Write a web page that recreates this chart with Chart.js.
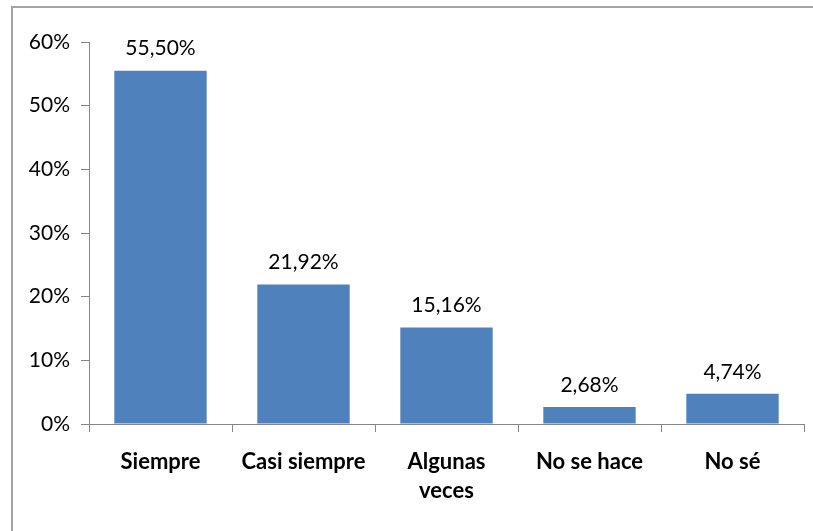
<!DOCTYPE html>
<html>
<head>
<meta charset="utf-8">
<script src="https://cdn.jsdelivr.net/npm/chart.js@4/dist/chart.umd.min.js"></script>
<style>
  html, body { margin: 0; padding: 0; background: #fff; }
  #wrap { width: 813px; height: 531px; position: relative; }
</style>
</head>
<body>
<div id="wrap"><canvas id="barChart"></canvas></div>
<script>
const categories = ['Siempre', 'Casi siempre', ['Algunas', 'veces'], 'No se hace', 'No sé'];
const values = [55.50, 21.92, 15.16, 2.68, 4.74];
const yTicks = [0, 10, 20, 30, 40, 50, 60];

const FONT = 'Lato, "Open Sans", sans-serif';
const axisColor = '#868686';

const fmt = v => v.toFixed(2).replace('.', ',') + '%';

// frame line on the top and left, like the original export
const framePlugin = {
  id: 'frame',
  beforeDraw(chart) {
    const ctx = chart.ctx;
    ctx.save();
    ctx.strokeStyle = '#a3a3a3';
    ctx.lineWidth = 2;
    ctx.beginPath();
    ctx.moveTo(12, 531);
    ctx.lineTo(12, 7);
    ctx.lineTo(813, 7);
    ctx.stroke();
    ctx.restore();
  }
};

// value labels above bars
const valueLabels = {
  id: 'valueLabels',
  afterDatasetsDraw(chart) {
    const ctx = chart.ctx;
    const meta = chart.getDatasetMeta(0);
    ctx.save();
    ctx.font = '21px ' + FONT;
    ctx.fillStyle = '#000';
    ctx.textAlign = 'center';
    ctx.textBaseline = 'middle';
    meta.data.forEach((bar, i) => {
      ctx.fillText(fmt(values[i]), bar.x, bar.y - 22);
    });
    ctx.restore();
  }
};

new Chart(document.getElementById('barChart').getContext('2d'), {
  type: 'bar',
  data: {
    labels: categories,
    datasets: [{
      data: values,
      backgroundColor: '#4F81BD',
      borderWidth: 0,
      categoryPercentage: 1,
      barPercentage: 0.646
    }]
  },
  options: {
    responsive: true,
    maintainAspectRatio: false,
    animation: false,
    layout: { padding: { top: 42, right: 9, left: 0, bottom: 0 } },
    plugins: {
      legend: { display: false },
      tooltip: { enabled: false }
    },
    scales: {
      x: {
        grid: { drawOnChartArea: false, drawTicks: true, tickLength: 8, color: axisColor, offset: true },
        border: { display: true, color: axisColor },
        ticks: {
          color: '#000',
          padding: 15,
          maxRotation: 0,
          autoSkip: false,
          font: { family: FONT, size: 22, weight: 'bold', lineHeight: 1.32 }
        },
        afterFit(scale) { scale.height = 107; }
      },
      y: {
        min: 0,
        max: 60,
        afterBuildTicks(scale) { scale.ticks = yTicks.map(v => ({ value: v })); },
        grid: { drawOnChartArea: false, drawTicks: true, tickLength: 8, color: axisColor },
        border: { display: true, color: axisColor },
        ticks: {
          color: '#000',
          padding: 11,
          callback: v => v + '%',
          font: { family: FONT, size: 21 }
        },
        afterFit(scale) { scale.width = 89; }
      }
    }
  },
  plugins: [framePlugin, valueLabels]
});
</script>
</body>
</html>
